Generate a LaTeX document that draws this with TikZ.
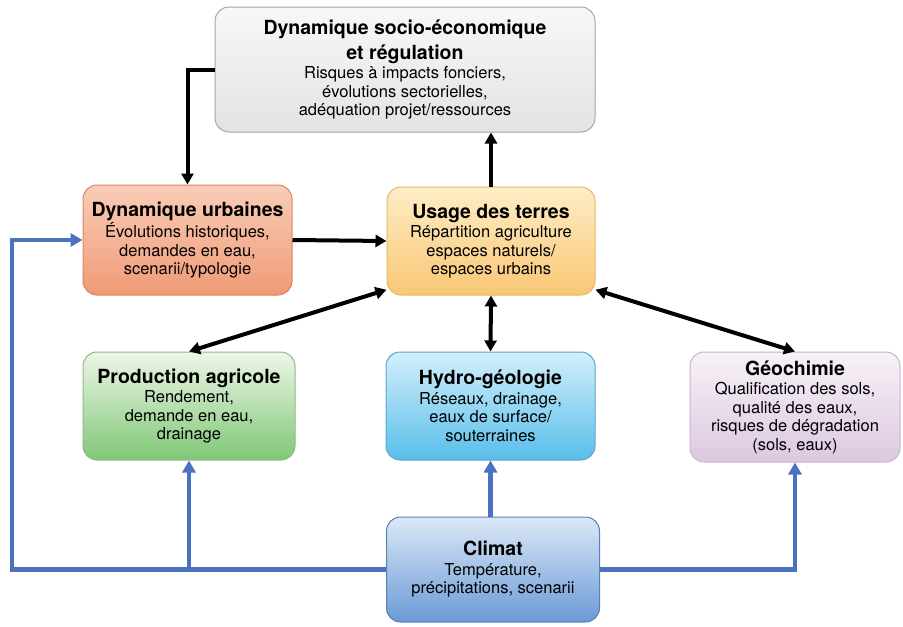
\documentclass[tikz,border=0pt]{standalone}
\usepackage{fontspec}
\setmainfont{TeX Gyre Heros}
\usetikzlibrary{arrows.meta}

\definecolor{blu}{HTML}{4A72C0}
\definecolor{orT}{HTML}{F9CDB8}
\definecolor{orB}{HTML}{F09A76}
\definecolor{orD}{HTML}{DD8460}
\definecolor{yeT}{HTML}{FEEDC6}
\definecolor{yeB}{HTML}{F9C775}
\definecolor{yeD}{HTML}{E9B864}
\definecolor{grT}{HTML}{EDF6E8}
\definecolor{grB}{HTML}{80C776}
\definecolor{grD}{HTML}{8DBB82}
\definecolor{cyT}{HTML}{D3EFFB}
\definecolor{cyB}{HTML}{58BEEA}
\definecolor{cyD}{HTML}{5FA6CB}
\definecolor{viT}{HTML}{F7F1F7}
\definecolor{viB}{HTML}{DCC8E1}
\definecolor{viD}{HTML}{C8B4CF}
\definecolor{clT}{HTML}{DCE8F6}
\definecolor{clB}{HTML}{6A9AD6}
\definecolor{clD}{HTML}{5480BB}

\begin{document}
\begin{tikzpicture}[
  x=1pt,y=-1pt,
  box/.style={rounded corners=14pt,line width=1pt,align=center,inner sep=2pt,
    font=\fontsize{16.5}{18.5}\selectfont},
  gbox/.style={box,draw=black!35,top color=black!3,bottom color=black!11},
  obox/.style={box,draw=orD,top color=orT,bottom color=orB},
  ybox/.style={box,draw=yeD,top color=yeT,bottom color=yeB},
  pbox/.style={box,draw=grD,top color=grT,bottom color=grB},
  hbox/.style={box,draw=cyD,top color=cyT,bottom color=cyB},
  lbox/.style={box,draw=viD,top color=viT,bottom color=viB},
  cbox/.style={box,draw=clD,top color=clT,bottom color=clB},
  blk/.style={line width=4pt,black,-{Triangle[length=11pt,width=12pt]}},
  dblk/.style={blk,{Triangle[length=11pt,width=12pt]}-{Triangle[length=11pt,width=12pt]}},
  bl/.style={line width=4.5pt,blu},
  bla/.style={bl,-{Triangle[length=12pt,width=13pt]}}
]
  \useasboundingbox (0,0) rectangle (903,627);
  \newcommand{\ttl}[1]{{\bfseries\fontsize{19.5}{22}\selectfont #1}}

  \node[gbox,minimum width=380pt,minimum height=125pt] (socio) at (405,69.5)
    {\ttl{Dynamique socio-économique}\\[5pt] \ttl{et régulation}\\[1pt] Risques à impacts fonciers,\\ évolutions sectorielles,\\ adéquation projet/ressources};
  \node[obox,minimum width=209pt,minimum height=110pt] (urb) at (187.5,240)
    {\ttl{Dynamique urbaines}\\[1pt] Évolutions historiques,\\ demandes en eau,\\ scenarii/typologie};
  \node[ybox,minimum width=208pt,minimum height=108pt] (usage) at (491,241)
    {\ttl{Usage des terres}\\[1pt] Répartition agriculture\\ espaces naturels/\\ espaces urbains};
  \node[pbox,minimum width=212pt,minimum height=108pt] (prod) at (189,406)
    {\ttl{Production agricole}\\[1pt] Rendement,\\ demande en eau,\\ drainage};
  \node[hbox,minimum width=209pt,minimum height=108pt] (hydro) at (490.5,406)
    {\ttl{Hydro-géologie}\\[1pt] Réseaux, drainage,\\ eaux de surface/\\ souterraines};
  \node[lbox,minimum width=210pt,minimum height=110pt] (geo) at (795,407)
    {\ttl{Géochimie}\\[1pt] Qualification des sols,\\ qualité des eaux,\\ risques de dégradation\\ (sols, eaux)};
  \node[cbox,minimum width=213pt,minimum height=105pt] (climat) at (493,569.5)
    {\ttl{Climat}\\[1pt] Température,\\ précipitations, scenarii};

  \coordinate (bend) at (12,240);

  % liens noirs
  \draw[blk] (socio.west) -| (urb.north);
  \draw[blk] (usage.north) -- (usage.north |- socio.south);
  \draw[blk] (urb.east) -- (usage.west);
  \draw[dblk] (usage.205) -- (prod.north);
  \draw[dblk] (usage.south) -- (hydro.north);
  \draw[dblk] (usage.-25) -- (geo.north);

  % climat
  \draw[bla] (climat.west) -| (bend) -- (urb.west);
  \draw[bla] (prod.south |- climat.west) -- (prod.south);
  \draw[bla] (hydro.south |- climat.north) -- (hydro.south);
  \draw[bla] (climat.east) -| (geo.south);
\end{tikzpicture}
\end{document}
